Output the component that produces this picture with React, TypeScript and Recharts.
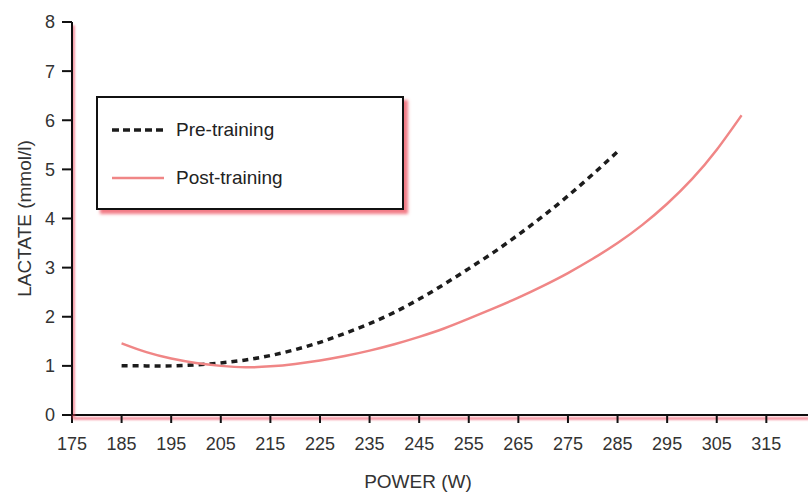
import React from 'react';
import { LineChart, Line, XAxis, YAxis, Legend } from 'recharts';

const power = [185, 190, 195, 200, 205, 210, 215, 220, 225, 230, 235, 240, 245, 250, 255, 260, 265, 270, 275, 280, 285, 290, 295, 300, 305, 310];
const preTraining = [1.0, 1.0, 1.0, 1.02, 1.06, 1.12, 1.21, 1.33, 1.48, 1.66, 1.86, 2.09, 2.36, 2.66, 2.98, 3.31, 3.67, 4.05, 4.46, 4.9, 5.36];
const postTraining = [1.46, 1.28, 1.15, 1.06, 1.0, 0.97, 0.99, 1.04, 1.11, 1.2, 1.31, 1.44, 1.59, 1.76, 1.96, 2.17, 2.39, 2.63, 2.89, 3.18, 3.5, 3.87, 4.3, 4.8, 5.4, 6.1];
const xTicks = [175, 185, 195, 205, 215, 225, 235, 245, 255, 265, 275, 285, 295, 305, 315];
const yTicks = [0, 1, 2, 3, 4, 5, 6, 7, 8];
const seriesNames = ['Pre-training', 'Post-training'];
const xTitle = 'POWER (W)';
const yTitle = 'LACTATE (mmol/l)';

const data = power.map((p, i) => ({
  power: p,
  pre: i < preTraining.length ? preTraining[i] : undefined,
  post: postTraining[i],
}));

const FONT = '"Liberation Sans", Arial, Helvetica, sans-serif';
const PRE_COLOR = '#1c1c1c';
const POST_COLOR = '#f08686';

const YTitle = (props: any) => {
  const vb = props.viewBox || { x: 0, y: 22, width: 72, height: 393 };
  const cx = vb.x + 24;
  const cy = vb.y + vb.height / 2;
  return (
    <text
      x={cx}
      y={cy}
      transform={`rotate(-90 ${cx} ${cy})`}
      textAnchor="middle"
      dominantBaseline="central"
      fill="#333"
      fontSize={19}
      fontFamily={FONT}
    >
      {yTitle}
    </text>
  );
};

const XTitle = (props: any) => {
  const vb = props.viewBox || { x: 72, y: 415, width: 736, height: 77 };
  const cx = vb.x + vb.width / 2 - 22;
  const cy = vb.y + 73;
  return (
    <text x={cx} y={cy} textAnchor="middle" fill="#333" fontSize={19} fontFamily={FONT}>
      {xTitle}
    </text>
  );
};

const renderLegend = () => (
  <div
    style={{
      width: 308,
      height: 114,
      boxSizing: 'border-box',
      border: '2px solid #111',
      background: '#fff',
      boxShadow: '4px 4px 3px rgba(238, 80, 95, 0.75)',
      position: 'relative',
      fontFamily: FONT,
      fontSize: 19,
      color: '#222',
    }}
  >
    {seriesNames.map((name, i) => (
      <div
        key={name}
        style={{ position: 'absolute', left: 13, top: i === 0 ? 20 : 68, height: 24, display: 'flex', alignItems: 'center' }}
      >
        <svg width={54} height={10} style={{ display: 'block' }}>
          {i === 0 ? (
            <line x1={1} y1={5} x2={53} y2={5} stroke={PRE_COLOR} strokeWidth={3.5} strokeDasharray="7 4" />
          ) : (
            <line x1={1} y1={5} x2={53} y2={5} stroke={POST_COLOR} strokeWidth={2.5} />
          )}
        </svg>
        <span style={{ marginLeft: 11, lineHeight: '24px', whiteSpace: 'nowrap' }}>{name}</span>
      </div>
    ))}
  </div>
);

export default function App() {
  return (
    <div style={{ position: 'absolute', left: 0, top: 0, width: 808, height: 492, background: '#fff' }}>
      <LineChart width={808} height={492} data={data} margin={{ top: 22, right: 0, bottom: 0, left: 0 }}>
        <defs>
          <filter id="axisShadow" filterUnits="userSpaceOnUse" x={0} y={0} width={808} height={492}>
            <feDropShadow dx={1.5} dy={3.5} stdDeviation={1.2} floodColor="#ee4a5c" floodOpacity={0.85} />
          </filter>
        </defs>
        <XAxis
          type="number"
          dataKey="power"
          domain={[175, 323.4]}
          allowDataOverflow
          ticks={xTicks}
          interval={0}
          height={77}
          tickSize={8}
          tickMargin={14}
          axisLine={{ stroke: '#111', strokeWidth: 2, filter: 'url(#axisShadow)' }}
          tickLine={{ stroke: '#111', strokeWidth: 2 }}
          tick={{ fill: '#333', fontSize: 18, fontFamily: FONT }}
          label={{ content: (p: any) => <XTitle {...p} /> }}
        />
        <YAxis
          type="number"
          domain={[0, 8]}
          allowDataOverflow
          ticks={yTicks}
          interval={0}
          width={72}
          tickSize={10}
          tickMargin={7}
          axisLine={{ stroke: '#111', strokeWidth: 2, filter: 'url(#axisShadow)' }}
          tickLine={{ stroke: '#111', strokeWidth: 2 }}
          tick={{ fill: '#333', fontSize: 18, fontFamily: FONT }}
          label={{ content: (p: any) => <YTitle {...p} /> }}
        />
        <Legend
          layout="horizontal"
          verticalAlign="middle"
          align="center"
          wrapperStyle={{ left: 96, top: 96, width: 308, height: 114 }}
          content={renderLegend}
        />
        <Line
          type="natural"
          dataKey="pre"
          name={seriesNames[0]}
          stroke={PRE_COLOR}
          strokeWidth={3.5}
          strokeDasharray="6 5"
          dot={false}
          activeDot={false}
          connectNulls={false}
          isAnimationActive={false}
        />
        <Line
          type="natural"
          dataKey="post"
          name={seriesNames[1]}
          stroke={POST_COLOR}
          strokeWidth={2.5}
          dot={false}
          activeDot={false}
          isAnimationActive={false}
        />
      </LineChart>
    </div>
  );
}
